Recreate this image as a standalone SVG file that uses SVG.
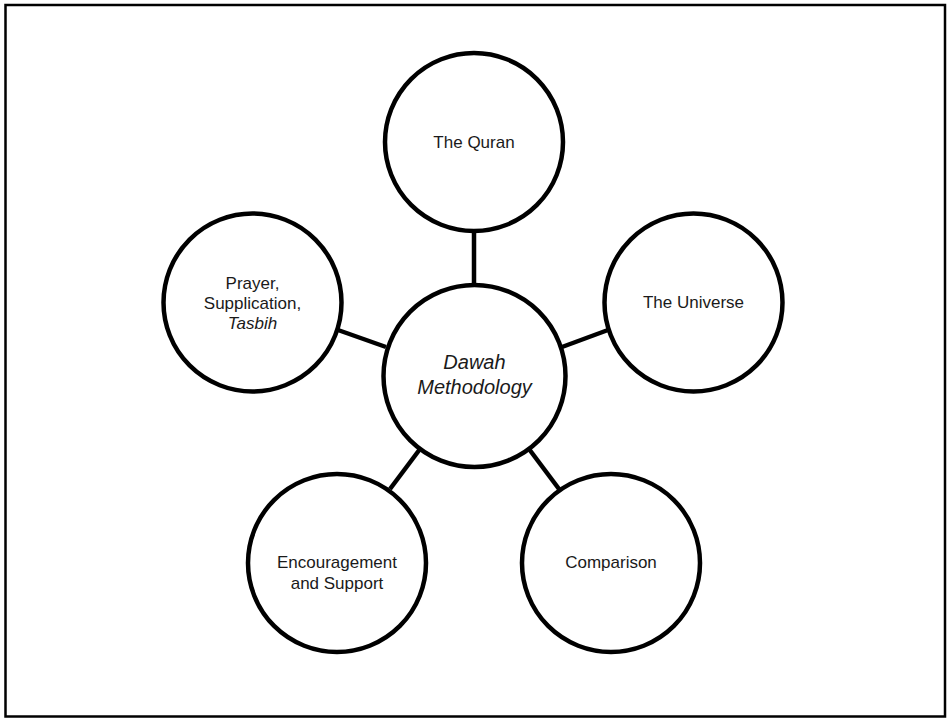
<svg xmlns="http://www.w3.org/2000/svg" width="950" height="720" viewBox="0 0 950 720">
<style>
.n{fill:#fff;stroke:#000;stroke-width:4.5}
.t{font-family:"Liberation Sans",Arial,sans-serif;font-size:17px;fill:#1a1a1a;text-anchor:middle}
.c{font-size:20px;font-style:italic}
.e{stroke:#000;stroke-width:4.5}
</style>
<rect x="0" y="0" width="950" height="720" fill="#fff"/>
<rect x="5.5" y="5" width="939.5" height="711.5" fill="none" stroke="#000" stroke-width="2.5"/>
<g id="connectors">
<line class="e" x1="474" y1="232" x2="474" y2="284"/>
<line class="e" x1="338" y1="330" x2="386" y2="347"/>
<line class="e" x1="608" y1="330" x2="562" y2="347"/>
<line class="e" x1="390" y1="489" x2="420" y2="449"/>
<line class="e" x1="559" y1="489" x2="529" y2="449"/>
</g>
<g id="center"><circle class="n" cx="474.5" cy="376" r="91"/>
<text class="t c" x="474.5" y="369">Dawah</text><text class="t c" x="474.5" y="394">Methodology</text></g>
<g id="quran"><circle class="n" cx="474" cy="142" r="89"/><text class="t" x="474" y="148">The Quran</text></g>
<g id="prayer"><circle class="n" cx="252.5" cy="302.5" r="89"/>
<text class="t" x="252.5" y="289">Prayer,</text><text class="t" x="252.5" y="309">Supplication,</text><text class="t" x="252.5" y="329" font-style="italic">Tasbih</text></g>
<g id="universe"><circle class="n" cx="693.5" cy="302.5" r="89"/><text class="t" x="693.5" y="308">The Universe</text></g>
<g id="encouragement"><circle class="n" cx="337" cy="563" r="89"/>
<text class="t" x="337" y="568">Encouragement</text><text class="t" x="337" y="589">and Support</text></g>
<g id="comparison"><circle class="n" cx="611" cy="563" r="89"/><text class="t" x="611" y="568">Comparison</text></g>
</svg>
